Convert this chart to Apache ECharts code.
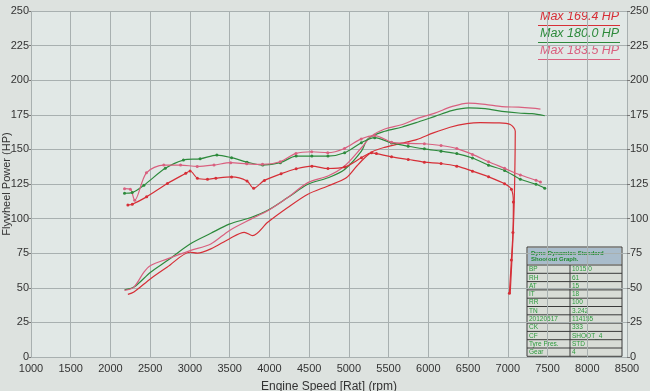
<!DOCTYPE html>
<html>
<head>
<meta charset="utf-8">
<script src="https://cdn.jsdelivr.net/npm/echarts@6/dist/echarts.min.js"></script>
<style>
  html, body { margin: 0; padding: 0; background: #dde2df; }
  #chart { width: 650px; height: 391px; }
</style>
</head>
<body>
<div id="chart"></div>
<script>
  // [rpm, HP] pairs
  const redPower = [[2219,45.3],[2295,47],[2505,56.6],[2716,65],[3002,75.7],[3094,75],[3263,78.1],[3494,85.3],[3684,90.1],[3789,87.7],[3979,97.3],[4231,108],[4484,117.6],[4737,123.6],[4968,129.5],[5100,138],[5200,144],[5300,148.5],[5450,151.5],[5663,154.5],[5852,157.1],[6063,161.9],[6273,166],[6484,168.6],[6652,169.4],[6863,169.2],[7031,168],[7094,163.2],[7090,140],[7080,110],[7060,80],[7030,46]];
  const greenPower = [[2177,48.6],[2295,50.5],[2505,61.3],[2716,69.7],[3002,81.7],[3263,89.4],[3494,96],[3768,100.8],[3979,106],[4231,115.2],[4484,124.8],[4737,129.5],[4947,135.5],[5158,148.7],[5242,157.8],[5452,163.1],[5663,166],[5873,169.8],[6083,173.9],[6294,178],[6505,180],[6715,179.4],[6926,177.5],[7136,176.3],[7305,175.8],[7465,174.3]];
  const pinkPower = [[2177,48.1],[2295,50.5],[2421,61.3],[2505,66.1],[2716,70.9],[3002,76.9],[3263,81.7],[3494,91.3],[3768,99.6],[3979,105.6],[4231,115.2],[4484,126],[4737,130.8],[4947,138],[5158,151.2],[5284,159.6],[5452,164.7],[5663,167.8],[5873,172.6],[6083,176.2],[6294,180.9],[6505,183.5],[6715,182.6],[6926,180.9],[7136,180.5],[7305,179.8],[7411,179.1]];
  const redTorque = [[2219,109.9],[2274,110.4],[2455,115.7],[2716,125.3],[2947,132.7],[3002,134.4],[3094,129.2],[3221,128.4],[3326,129.2],[3524,130.1],[3718,127.2],[3802,121.9],[3937,127.6],[4147,132.4],[4337,136],[4535,137.9],[4737,136.2],[4947,137.2],[5158,143.9],[5284,147.5],[5347,147],[5537,144.6],[5747,142.7],[5950,140.8],[6160,139.8],[6358,137.9],[6556,134.3],[6758,130.2],[6960,125.2],[7045,121.2],[7070,112],[7065,90],[7045,70],[7020,46]];
  const greenTorque = [[2177,118.3],[2274,118.8],[2421,124.1],[2690,136.3],[2918,142.3],[3128,143.2],[3339,145.9],[3524,144],[3718,140.8],[3916,138.7],[4138,140.4],[4337,145.2],[4534,145.2],[4737,145.2],[4947,147.6],[5157,154.8],[5325,158.5],[5537,154.7],[5747,152.3],[5950,150.4],[6160,148.7],[6358,147],[6556,143.8],[6758,138.6],[6960,134.8],[7158,128.4],[7356,124.8],[7465,122]];
  const pinkTorque = [[2177,121.6],[2250,121.2],[2305,113.3],[2452,133.1],[2671,138.7],[2882,138.7],[3092,137.7],[3303,138.7],[3513,140.4],[3715,139.6],[3913,139.2],[4136,141.1],[4334,147.1],[4532,148.3],[4734,147.6],[4945,150.7],[5155,157.6],[5326,160],[5537,155.2],[5747,154.3],[5950,154.1],[6160,152.8],[6358,150.6],[6556,146.4],[6758,141.1],[6960,136.3],[7158,131.5],[7356,127.7],[7411,126.5]];

  const maxLabels = ['Max 169.4 HP', 'Max 180.0 HP', 'Max 183.5 HP'];
  const infoHeader = 'Dyno Dynamics Standard\nShootout Graph.';
  const infoKeys = ['BP', 'RH', 'AT', 'IT', 'RR', 'TN', '20120517', 'CK', 'CF', 'Tyre Pres.', 'Gear'];
  const infoVals = ['1015.0', '61', '15', '18', '100', '3.242', '114155', '333', 'SHOOT_4', 'STD', '4'];

  const RED = '#d62f37', GREEN = '#2d8a3c', PINK = '#d9607f';
  const font = '"Liberation Sans Narrow", "Liberation Sans", Arial, sans-serif';

  const chart = echarts.init(document.getElementById('chart'));

  function line(data, color, marks) {
    return {
      type: 'line',
      data: data,
      smooth: 0.3,
      showSymbol: marks,
      symbol: 'circle',
      symbolSize: 3,
      lineStyle: { color: color, width: 1.2 },
      itemStyle: { color: color },
      animation: false,
      z: 3
    };
  }

  // info table drawn as graphic
  const tx = 527, ty = 247, tw = 95, colX = 570, hh = 18, rh = 8.3;
  const table = [
    { type: 'rect', shape: { x: tx, y: ty, width: tw, height: hh + rh * infoKeys.length }, style: { fill: '#d8dcd6', stroke: '#3a3a3a', lineWidth: 1 } },
    { type: 'rect', shape: { x: tx + 1, y: ty + 1, width: tw - 2, height: hh - 2 }, style: { fill: '#a9bccb' } },
    { type: 'text', x: tx + 4, y: ty + 3, style: { text: infoHeader, fill: '#1e8a2e', font: 'bold 6px ' + font, lineHeight: 6 } }
  ];
  infoKeys.forEach((k, i) => {
    const y = ty + hh + i * rh;
    table.push({ type: 'line', shape: { x1: tx, y1: y, x2: tx + tw, y2: y }, style: { stroke: '#3a3a3a', lineWidth: 1 } });
    table.push({ type: 'text', x: tx + 2, y: y + 1, style: { text: k, fill: '#2c9a3c', font: '6.5px ' + font } });
    table.push({ type: 'text', x: colX + 2, y: y + 1, style: { text: infoVals[i], fill: '#2c9a3c', font: '6.5px ' + font } });
  });
  table.push({ type: 'line', shape: { x1: colX, y1: ty + hh, x2: colX, y2: ty + hh + rh * infoKeys.length }, style: { stroke: '#3a3a3a', lineWidth: 1 } });

  const legend = [];
  [RED, GREEN, PINK].forEach((c, i) => {
    const y = 10 + i * 17;
    legend.push({ type: 'text', x: 540, y: y, style: { text: maxLabels[i], fill: c, font: 'italic 12.5px "Liberation Sans", Arial, sans-serif' } });
    legend.push({ type: 'line', shape: { x1: 538, y1: y + 15.5, x2: 620, y2: y + 15.5 }, style: { stroke: c, lineWidth: 1 } });
  });

  const option = {
    backgroundColor: '#dde2df',
    grid: { left: 31, right: 23, top: 11, bottom: 34, outerBoundsMode: 'none', containLabel: false, show: true, backgroundColor: '#e1e8e6', borderWidth: 0 },
    xAxis: {
      type: 'value', min: 1000, max: 8500, interval: 500,
      name: 'Engine Speed [Rat] (rpm)', nameLocation: 'middle', nameGap: 24, nameMoveOverlap: false,
      nameTextStyle: { color: '#333', fontSize: 12, fontFamily: font },
      axisLine: { show: false },
      axisTick: { show: false },
      axisLabel: { color: '#333', fontSize: 11, fontFamily: font, margin: 6, formatter: v => String(v) },
      splitLine: { lineStyle: { color: '#a8b0b0', width: 1 } }
    },
    yAxis: [{
      type: 'value', min: 0, max: 250, interval: 25,
      name: 'Flywheel Power (HP)', nameLocation: 'middle', nameGap: 19, nameRotate: 90, nameMoveOverlap: false,
      nameTextStyle: { color: '#333', fontSize: 11, fontFamily: font },
      axisLine: { show: false },
      axisTick: { show: true, length: 2, lineStyle: { color: '#777' } },
      axisLabel: { color: '#333', fontSize: 11, fontFamily: font, margin: 2 },
      splitLine: { lineStyle: { color: '#a8b0b0', width: 1 } }
    }, {
      type: 'value', min: 0, max: 250, interval: 25, position: 'right',
      axisLine: { show: false },
      axisTick: { show: true, length: 3, lineStyle: { color: '#777' } },
      axisLabel: { color: '#333', fontSize: 11, fontFamily: font, margin: 3 },
      splitLine: { show: false }
    }],
    series: [
      line(redPower, RED, false),
      line(greenPower, GREEN, false),
      line(pinkPower, PINK, false),
      line(redTorque, RED, true),
      line(greenTorque, GREEN, true),
      line(pinkTorque, PINK, true)
    ],
    graphic: legend.concat(table)
  };

  chart.setOption(option);
</script>
</body>
</html>
